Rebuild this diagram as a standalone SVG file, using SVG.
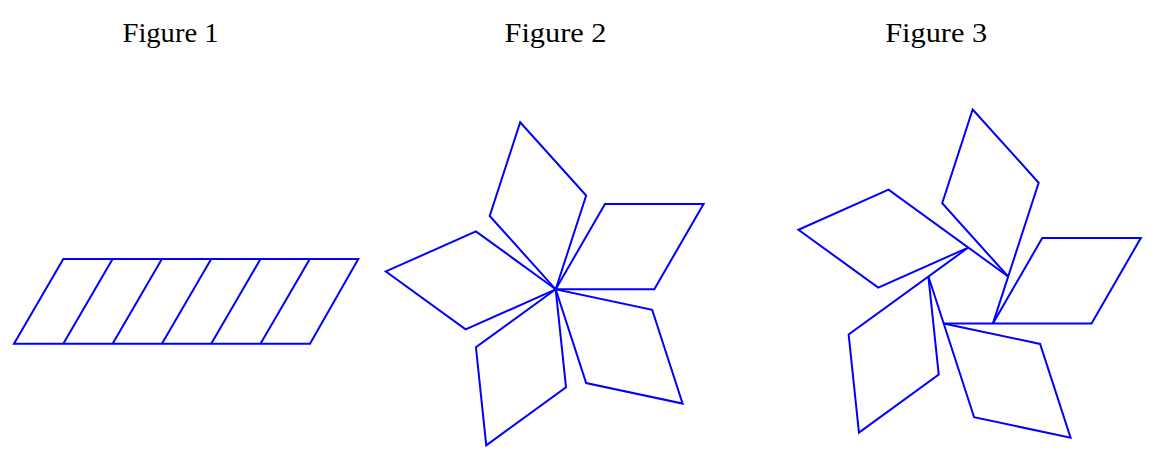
<svg xmlns="http://www.w3.org/2000/svg" xmlns:xlink="http://www.w3.org/1999/xlink" width="1156" height="454" viewBox="0 0 1156 454">
<style>
.ln{fill:none;stroke:#0000ff;stroke-width:2;stroke-linejoin:miter}
.t{font-family:"Liberation Serif","DejaVu Serif",serif;font-size:28px;fill:#000;text-anchor:middle}
</style>
<defs>
<path id="rh2" class="ln" d="M0 0 L98.6 0 L147.9 -85.4 L49.3 -85.4 Z"/>
<path id="rh3" class="ln" d="M-24.65 33.93 L123.25 33.93 L172.55 -51.47 L73.95 -51.47 L24.65 33.93"/>
</defs>
<rect width="1156" height="454" fill="#fff"/>
<g id="titles">
<text class="t" x="170.5" y="42" textLength="96" lengthAdjust="spacingAndGlyphs">Figure 1</text>
<text class="t" x="555.5" y="42" textLength="102" lengthAdjust="spacingAndGlyphs">Figure 2</text>
<text class="t" x="936.2" y="42" textLength="102" lengthAdjust="spacingAndGlyphs">Figure 3</text>
</g>
<g id="figure1">
<path class="ln" d="M14 343.7 L310 343.7 L358.3 259 L63.3 259 Z"/>
<path class="ln" d="M63.3 343.7 L112.6 259 M112.6 343.7 L161.9 259 M161.9 343.7 L211.2 259 M211.2 343.7 L260.5 259 M260.5 343.7 L309.8 259"/>
</g>
<g id="figure2" transform="translate(555.7 289.3)">
<use xlink:href="#rh2" href="#rh2"/>
<use xlink:href="#rh2" href="#rh2" transform="rotate(-72)"/>
<use xlink:href="#rh2" href="#rh2" transform="rotate(-144)"/>
<use xlink:href="#rh2" href="#rh2" transform="rotate(-216)"/>
<use xlink:href="#rh2" href="#rh2" transform="rotate(-288)"/>
</g>
<g id="figure3" transform="translate(968.3 289.5)">
<use xlink:href="#rh3" href="#rh3"/>
<use xlink:href="#rh3" href="#rh3" transform="rotate(-72)"/>
<use xlink:href="#rh3" href="#rh3" transform="rotate(-144)"/>
<use xlink:href="#rh3" href="#rh3" transform="rotate(-216)"/>
<use xlink:href="#rh3" href="#rh3" transform="rotate(-288)"/>
</g>
</svg>
